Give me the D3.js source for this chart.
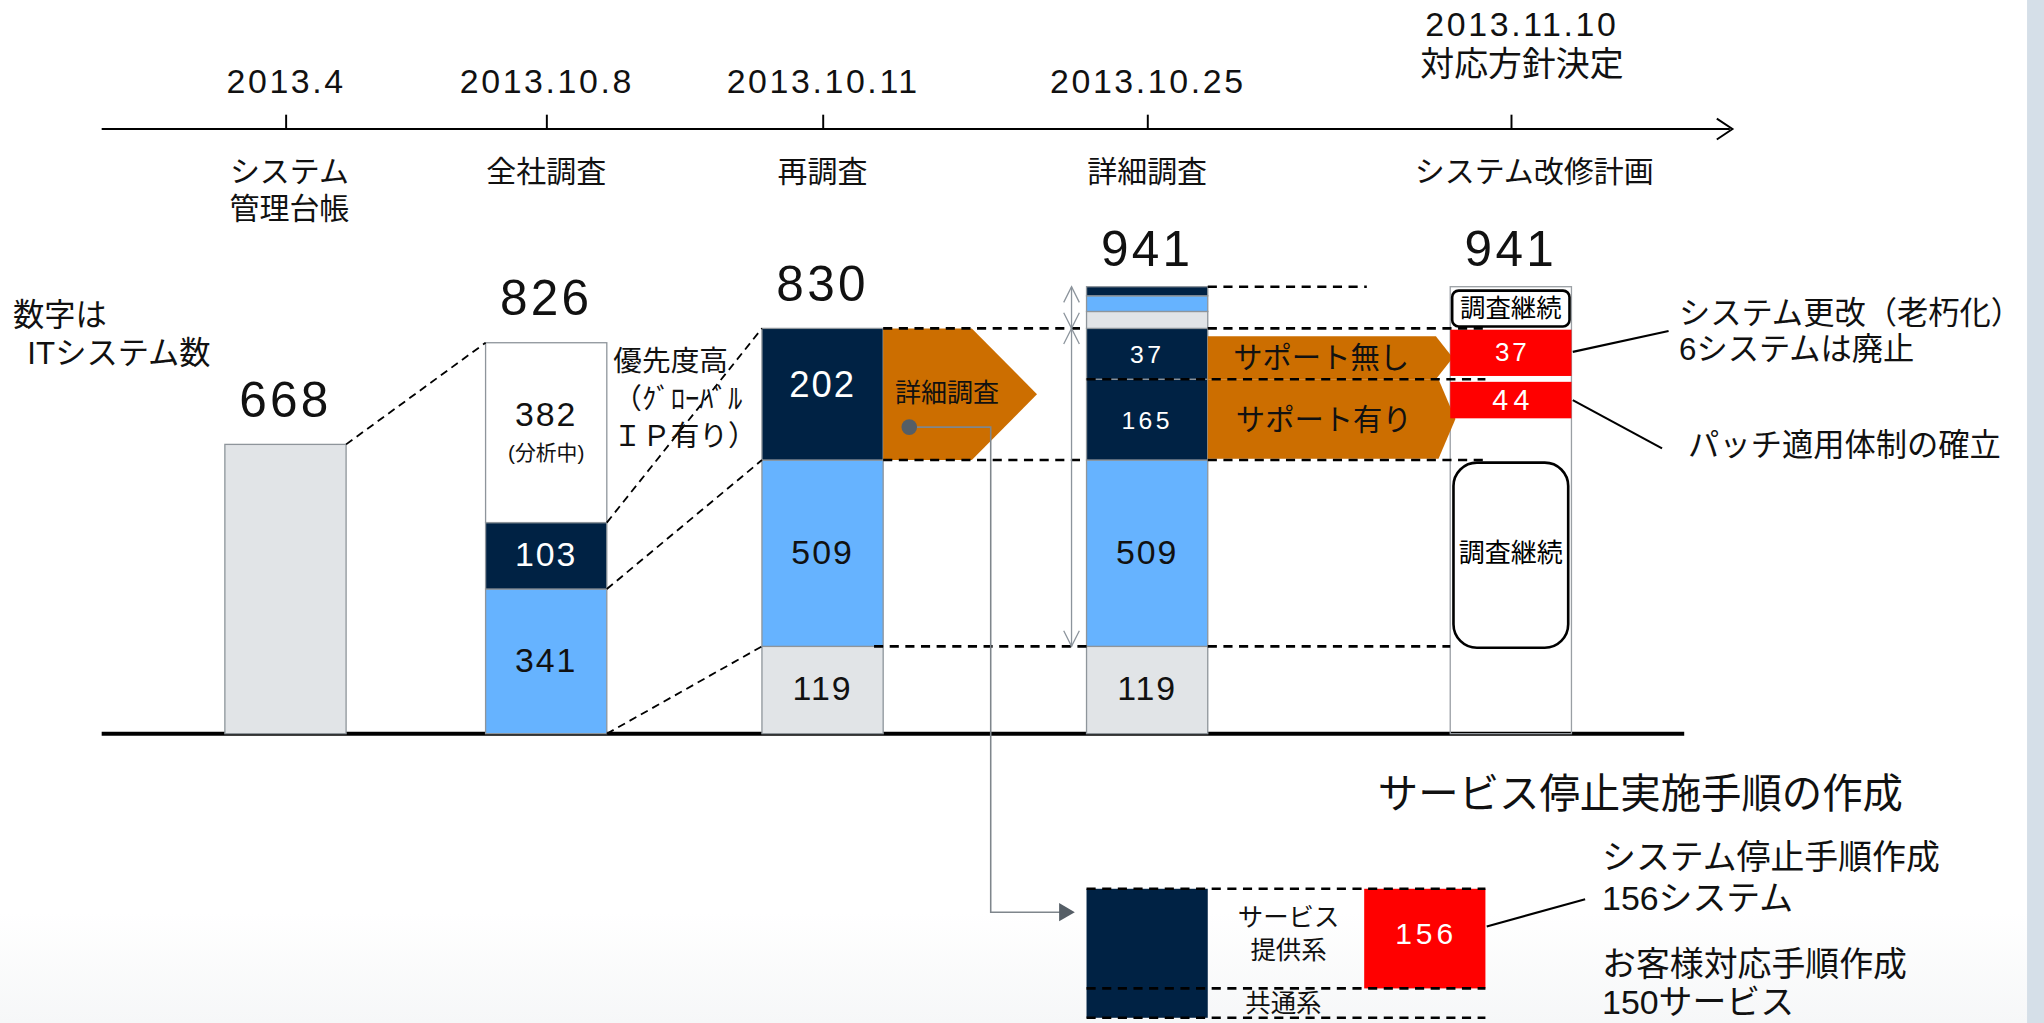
<!DOCTYPE html>
<html><head><meta charset="utf-8">
<script src="https://cdn.jsdelivr.net/npm/d3@7"></script>
<style>
html,body{margin:0;padding:0;background:#fff;}
svg{display:block;}
text{font-family:"Liberation Sans","Noto Sans CJK JP",sans-serif;}
</style></head><body>
<svg id="chart" width="2044" height="1023" viewBox="0 0 1568 785" preserveAspectRatio="none"></svg>
<script>
// ---------------- data ----------------
const stageDates = ["2013.4","2013.10.8","2013.10.11","2013.10.25","2013.11.10"];
const stageNames = [["システム","管理台帳"],["全社調査"],["再調査"],["詳細調査"],["システム改修計画"]];
const decisionLabel = "対応方針決定";
const stageTotals = [668, 826, 830, 941, 941];

const ledgerValues = [668];
const ledgerKinds = ["ledger"];
const surveyValues = [341, 103, 382];
const surveyKinds = ["low","high","analyzing"];
const resurveyValues = [119, 509, 202];
const resurveyKinds = ["excluded","low","high"];
const detailValues = [119, 509, 165, 37, 45, 42, 24];
const detailKinds = ["excluded","low","high","high","excluded","low","high"];
const detailShown = [true, true, true, true, false, false, false];
const planValues = [119, 509, 121, 44, 37, 111];
const planKinds = ["none","continue","none","patch","renew","continueSmall"];
const serviceSplit = [156, 46];

const noteLines = ["数字は","ITシステム数"];
const priorityLines = ["優先度高","（ｸﾞﾛｰﾊﾞﾙ","ＩＰ有り）"];
const analyzingNote = "(分析中)";
const continueLabel = "調査継続";
const detailArrowLabel = "詳細調査";
const supportLabels = ["サポート無し","サポート有り"];
const renewNote = ["システム更改（老朽化）","6システムは廃止"];
const patchNote = "パッチ適用体制の確立";
const serviceTitle = "サービス停止実施手順の作成";
const serviceRowLabels = [["サービス","提供系"],["共通系"]];
const serviceNotes = ["システム停止手順作成","156システム","お客様対応手順作成","150サービス"];

// ---------------- setup ----------------
const W = 1568, H = 785;
const svg = d3.select("#chart");
const fills = {ledger:"#e1e4e7", excluded:"#e1e4e7", low:"#66b3ff", high:"#002244", analyzing:"#ffffff"};
const ORANGE = "#cc6e00", RED = "#ff0000";

const defs = svg.append("defs");
const grad = defs.append("linearGradient").attr("id","bottomFade").attr("x1",0).attr("y1",0).attr("x2",0).attr("y2",1);
grad.append("stop").attr("offset","0%").attr("stop-color","#ffffff");
grad.append("stop").attr("offset","100%").attr("stop-color","#f6f7f8");
svg.append("rect").attr("x",0).attr("y",0).attr("width",W).attr("height",H).attr("fill","#fff");
svg.append("rect").attr("x",0).attr("y",700).attr("width",W).attr("height",H-700).attr("fill","url(#bottomFade)");
svg.append("rect").attr("x",1555).attr("y",0).attr("width",13).attr("height",H).attr("fill","#d5dfe8");

// scales
const cum = arr => { let s = 0; return arr.map(v => s += v); };
const allStacks = [ledgerValues, surveyValues, resurveyValues, detailValues, planValues];
const levels = Array.from(new Set([0, ...allStacks.flatMap(cum)])).sort((a,b)=>a-b);
// schematic (non-uniform) vertical layout of the level breakpoints
const levelY = [563,496,452,401,353,341,321,291,263,252,239,227,220];
const y = d3.scaleLinear().domain(levels).range(levelY);
const x = d3.scaleOrdinal().domain(stageDates).range([219,419,631,880,1159]);
const bw = 93;
const L = i => x(stageDates[i]) - bw/2, R = i => x(stageDates[i]) + bw/2;

// ---------------- timeline ----------------
const axisY = 99;
svg.append("line").attr("x1",78).attr("x2",1327).attr("y1",axisY).attr("y2",axisY).attr("stroke","#000").attr("stroke-width",1.5);
svg.append("polyline").attr("points",`1317,${axisY-8} 1329,${axisY} 1317,${axisY+8}`).attr("fill","none").attr("stroke","#000").attr("stroke-width",1.5);
const axis = d3.axisTop(x).tickSizeInner(11).tickSizeOuter(0).tickPadding(17).tickFormat(d=>d);
const ag = svg.append("g").attr("transform",`translate(0,${axisY})`).call(axis);
ag.select(".domain").remove();
ag.selectAll(".tick line").attr("stroke","#000").attr("stroke-width",1.5);
ag.selectAll(".tick text").attr("font-size",26).attr("fill","#111").attr("letter-spacing","2px");
const lastTick = ag.selectAll(".tick").filter((d,i)=>i===stageDates.length-1);
lastTick.select("text").attr("y",-71).attr("dx",8);
lastTick.append("text").attr("y",-41).attr("dx",8).attr("text-anchor","middle").attr("font-size",26).attr("fill","#111").text(decisionLabel);

// stage names
stageNames.forEach((lines,i)=>{
  lines.forEach((t,k)=>{
    svg.append("text").attr("x", x(stageDates[i]) + (i===4?18:(i===0?3:0))).attr("y",140+k*28)
      .attr("text-anchor","middle").attr("font-size",23).attr("fill","#111").text(t);
  });
});

// ---------------- baseline ----------------
svg.append("line").attr("x1",78).attr("x2",1292).attr("y1",y(0)).attr("y2",y(0)).attr("stroke","#000").attr("stroke-width",3);

// ---------------- stacked bars ----------------
function stack(i, values, kinds){
  const c = cum(values);
  return values.map((v,k)=>({stage:i, v, kind:kinds[k], y0:c[k]-v, y1:c[k], idx:k}));
}
const segs = [
  ...stack(0, ledgerValues, ledgerKinds),
  ...stack(1, surveyValues, surveyKinds),
  ...stack(2, resurveyValues, resurveyKinds),
  ...stack(3, detailValues, detailKinds)
];
svg.append("g").selectAll("rect").data(segs).join("rect")
  .attr("x", d=>L(d.stage)).attr("width", bw)
  .attr("y", d=>y(d.y1)).attr("height", d=>y(d.y0)-y(d.y1))
  .attr("fill", d=>fills[d.kind]).attr("stroke","#8e959b").attr("stroke-width",1);

// ---------------- plan column ----------------
svg.append("rect").attr("x",L(4)).attr("y",y(stageTotals[4])).attr("width",bw).attr("height",y(0)-y(stageTotals[4]))
  .attr("fill","none").attr("stroke","#9a9fa4").attr("stroke-width",1);

// ---------------- orange arrows ----------------
const c3 = cum(detailValues);
const top830 = y(cum(resurveyValues)[2]), bot628 = y(cum(resurveyValues)[1]);
const mid793 = y(c3[2]);
function pent(x0, x1, shoulder, y0, y1){
  return `${x0},${y0} ${shoulder},${y0} ${x1},${(y0+y1)/2} ${shoulder},${y1} ${x0},${y1}`;
}
svg.append("polygon").attr("points", pent(R(2), R(2)+118, R(2)+68, top830, bot628)).attr("fill",ORANGE);
svg.append("polygon").attr("points", pent(R(3), L(4)+2, L(4)-11, top830+6, mid793)).attr("fill",ORANGE);
svg.append("polygon").attr("points", pent(R(3), L(4)+4, L(4)-9, mid793, bot628-1)).attr("fill",ORANGE);
svg.append("text").attr("x",R(2)+9).attr("y",(top830+bot628)/2+6).attr("font-size",20).attr("fill","#111").text(detailArrowLabel);
svg.append("text").attr("x",(R(3)+L(4))/2-6).attr("y",(top830+6+mid793)/2+8).attr("text-anchor","middle").attr("font-size",22.5).attr("fill","#111").text(supportLabels[0]);
svg.append("text").attr("x",(R(3)+L(4))/2-4).attr("y",(mid793+bot628)/2+8).attr("text-anchor","middle").attr("font-size",22.5).attr("fill","#111").text(supportLabels[1]);

// plan column content
const planSegs = stack(4, planValues, planKinds);
planSegs.forEach(d=>{
  const top = y(d.y1), bot = y(d.y0), cx = x(stageDates[4]);
  if(d.kind==="continueSmall"){
    svg.append("rect").attr("x",L(4)+1.5).attr("y",top+3).attr("width",bw-3).attr("height",bot-top-4.5).attr("rx",5)
      .attr("fill","#fff").attr("stroke","#000").attr("stroke-width",2);
    svg.append("text").attr("x",cx).attr("y",(top+bot)/2+7.5).attr("text-anchor","middle").attr("font-size",19.5).attr("fill","#000").text(continueLabel);
  } else if(d.kind==="continue"){
    svg.append("rect").attr("x",L(4)+2.5).attr("y",top+2).attr("width",bw-5).attr("height",bot-top-1).attr("rx",18)
      .attr("fill","#fff").attr("stroke","#000").attr("stroke-width",2);
    svg.append("text").attr("x",cx).attr("y",(top+bot)/2+7).attr("text-anchor","middle").attr("font-size",20).attr("fill","#000").text(continueLabel);
  } else if(d.kind==="renew" || d.kind==="patch"){
    const t = d.kind==="renew" ? top+1 : top+2;
    const b = d.kind==="renew" ? bot-2.5 : bot;
    svg.append("rect").attr("x",L(4)).attr("y",t).attr("width",bw).attr("height",b-t).attr("fill",RED);
    const fs = d.kind==="renew" ? 20 : 22;
    svg.append("text").attr("x",cx+(d.kind==="renew"?1:2)).attr("y",(t+b)/2+fs*0.33).attr("text-anchor","middle")
      .attr("font-size",fs).attr("fill","#fff").attr("letter-spacing", d.kind==="renew"?"2px":"4px").text(String(d.v));
  }
});

// ---------------- dashed guide lines ----------------
const c0 = cum(ledgerValues), c1 = cum(surveyValues), c2 = cum(resurveyValues);
const diag = [
  [R(0), y(c0[0]), L(1), y(c1[2])],
  [R(1), y(c1[1]), L(2), y(c2[2])],
  [R(1), y(c1[0]), L(2), y(c2[1])],
  [R(1), y(0),     L(2), y(c2[0])]
];
svg.append("g").selectAll("line").data(diag).join("line")
  .attr("x1",d=>d[0]).attr("y1",d=>d[1]).attr("x2",d=>d[2]).attr("y2",d=>d[3])
  .attr("stroke","#000").attr("stroke-width",1.4).attr("stroke-dasharray","6,4");
const horiz = [
  [R(2), L(3), y(c2[2])], [R(3), L(4)+27, y(c2[2])],
  [R(3), R(3)+122, y(c3[6])],
  [L(3), L(4)+27, y(c3[2])],
  [R(2), L(3), y(c2[1])], [R(3), L(4)+27, y(c2[1])],
  [R(2)-7, L(3), y(c2[0])], [R(3), L(4), y(c2[0])]
];
svg.append("g").selectAll("line").data(horiz).join("line")
  .attr("x1",d=>d[0]).attr("x2",d=>d[1]).attr("y1",d=>d[2]).attr("y2",d=>d[2])
  .attr("stroke","#000").attr("stroke-width",2).attr("stroke-dasharray","7,5");

// vertical span arrows beside the detailed bar
const ax = L(3) - 11.5;
const gA = svg.append("g").attr("stroke","#8c949c").attr("stroke-width",1).attr("fill","none");
gA.append("line").attr("x1",ax).attr("x2",ax).attr("y1",y(c3[6])).attr("y2",y(c3[0]));
const head = (yy, dir) => gA.append("polyline").attr("points",`${ax-6},${yy+dir*12} ${ax},${yy} ${ax+6},${yy+dir*12}`);
head(y(c3[6]), 1); head(y(c2[2]), -1); head(y(c2[2]), 1); head(y(c3[0]), -1);

// ---------------- bar labels ----------------
function segLabel(d, text, opts){
  const top = y(d.y1), bot = y(d.y0), mid = (top+bot)/2;
  svg.append("text").attr("x", x(stageDates[d.stage])).attr("y", mid + (opts.dy||0))
    .attr("text-anchor","middle").attr("font-size",opts.fs||26)
    .attr("letter-spacing", opts.ls||"1.5px")
    .attr("fill", d.kind==="high" ? "#fff" : "#111").text(text);
}
segs.forEach(d=>{
  if(d.stage===0) return;
  if(d.stage===3 && !detailShown[d.idx]) return;
  if(d.kind==="analyzing"){
    segLabel(d, String(d.v), {dy:-5});
    segLabel(d, analyzingNote, {dy:21, fs:16, ls:"0px"});
  } else if(d.stage===3 && d.kind==="high"){
    segLabel(d, String(d.v), {dy:7, fs:19, ls:"2.5px"});
  } else if(d.stage===2 && d.kind==="high"){
    segLabel(d, String(d.v), {dy:2, fs:28, ls:"1.5px"});
  } else {
    segLabel(d, String(d.v), {dy:8});
  }
});

// totals
stageTotals.forEach((t,i)=>{
  svg.append("text").attr("x",x(stageDates[i])).attr("y",y(t)-(i>=3?16:21)).attr("text-anchor","middle")
    .attr("font-size",38).attr("letter-spacing","2.5px").attr("fill","#111").text(String(t));
});

// left note
noteLines.forEach((t,k)=>{
  svg.append("text").attr("x",k?21:10).attr("y",250+k*29).attr("font-size",24).attr("fill","#111").text(t);
});
// priority note
priorityLines.forEach((t,k)=>{
  svg.append("text").attr("x",R(1)+5).attr("y",285+k*28.5).attr("font-size",22).attr("fill","#111").text(t);
});

// ---------------- detail connector ----------------
const dotX = R(2)+20, dotY = top830 + 0.75*(bot628-top830);
const by = d3.scaleLinear().domain([0, d3.sum(serviceSplit)]).range([682, 781]);
const turnX = R(2)+82.5, arrowY = 700;
svg.append("polyline").attr("points",`${dotX},${dotY} ${turnX},${dotY} ${turnX},${arrowY} ${L(3)-20},${arrowY}`)
  .attr("fill","none").attr("stroke","#7f868c").attr("stroke-width",1.2);
svg.append("polygon").attr("points",`${L(3)-21},${arrowY-7} ${L(3)-9},${arrowY} ${L(3)-21},${arrowY+7}`).attr("fill","#555e66");
svg.append("circle").attr("cx",dotX).attr("cy",dotY).attr("r",6).attr("fill","#555e66");

// ---------------- service procedure box ----------------
const sc = cum(serviceSplit);
const redX = R(3)+120;
svg.append("rect").attr("x",L(3)).attr("y",by(0)).attr("width",bw).attr("height",by(sc[1])-by(0)).attr("fill",fills.high);
svg.append("rect").attr("x",redX).attr("y",by(0)).attr("width",bw).attr("height",by(sc[0])-by(0)).attr("fill",RED);
svg.append("g").selectAll("line").data([0, sc[0], sc[1]]).join("line")
  .attr("x1",L(3)).attr("x2",redX+bw).attr("y1",d=>by(d)).attr("y2",d=>by(d))
  .attr("stroke","#000").attr("stroke-width",2).attr("stroke-dasharray","7,5");
const rowMid1 = (by(0)+by(sc[0]))/2, rowMid2 = (by(sc[0])+by(sc[1]))/2;
serviceRowLabels[0].forEach((t,k)=>{
  svg.append("text").attr("x",R(3)+62).attr("y",rowMid1-10+k*26).attr("text-anchor","middle").attr("font-size",19.5).attr("fill","#111").text(t);
});
svg.append("text").attr("x",R(3)+58).attr("y",rowMid2+7).attr("text-anchor","middle").attr("font-size",19.5).attr("fill","#111").text(serviceRowLabels[1][0]);
svg.append("text").attr("x",redX+bw/2+1).attr("y",rowMid1+4).attr("text-anchor","middle").attr("font-size",23).attr("letter-spacing","3px").attr("fill","#fff").text(String(serviceSplit[0]));

// ---------------- callouts ----------------
const gC = svg.append("g").attr("stroke","#000").attr("stroke-width",1.6);
gC.append("line").attr("x1",R(4)+1).attr("y1",270).attr("x2",1280).attr("y2",254);
gC.append("line").attr("x1",R(4)+1).attr("y1",307).attr("x2",1275).attr("y2",344);
gC.append("line").attr("x1",redX+bw+1).attr("y1",711).attr("x2",1216).attr("y2",690);

renewNote.forEach((t,k)=>{
  svg.append("text").attr("x",1288).attr("y",249+k*27).attr("font-size",24).attr("fill","#111").text(t);
});
svg.append("text").attr("x",1295).attr("y",350).attr("font-size",24).attr("fill","#111").text(patchNote);

svg.append("text").attr("x",1057).attr("y",620).attr("font-size",31).attr("fill","#111").text(serviceTitle);
const noteY = [667, 698, 749, 778];
serviceNotes.forEach((t,k)=>{
  svg.append("text").attr("x",1229).attr("y",noteY[k]).attr("font-size",26).attr("fill","#111").text(t);
});
</script>
</body></html>
